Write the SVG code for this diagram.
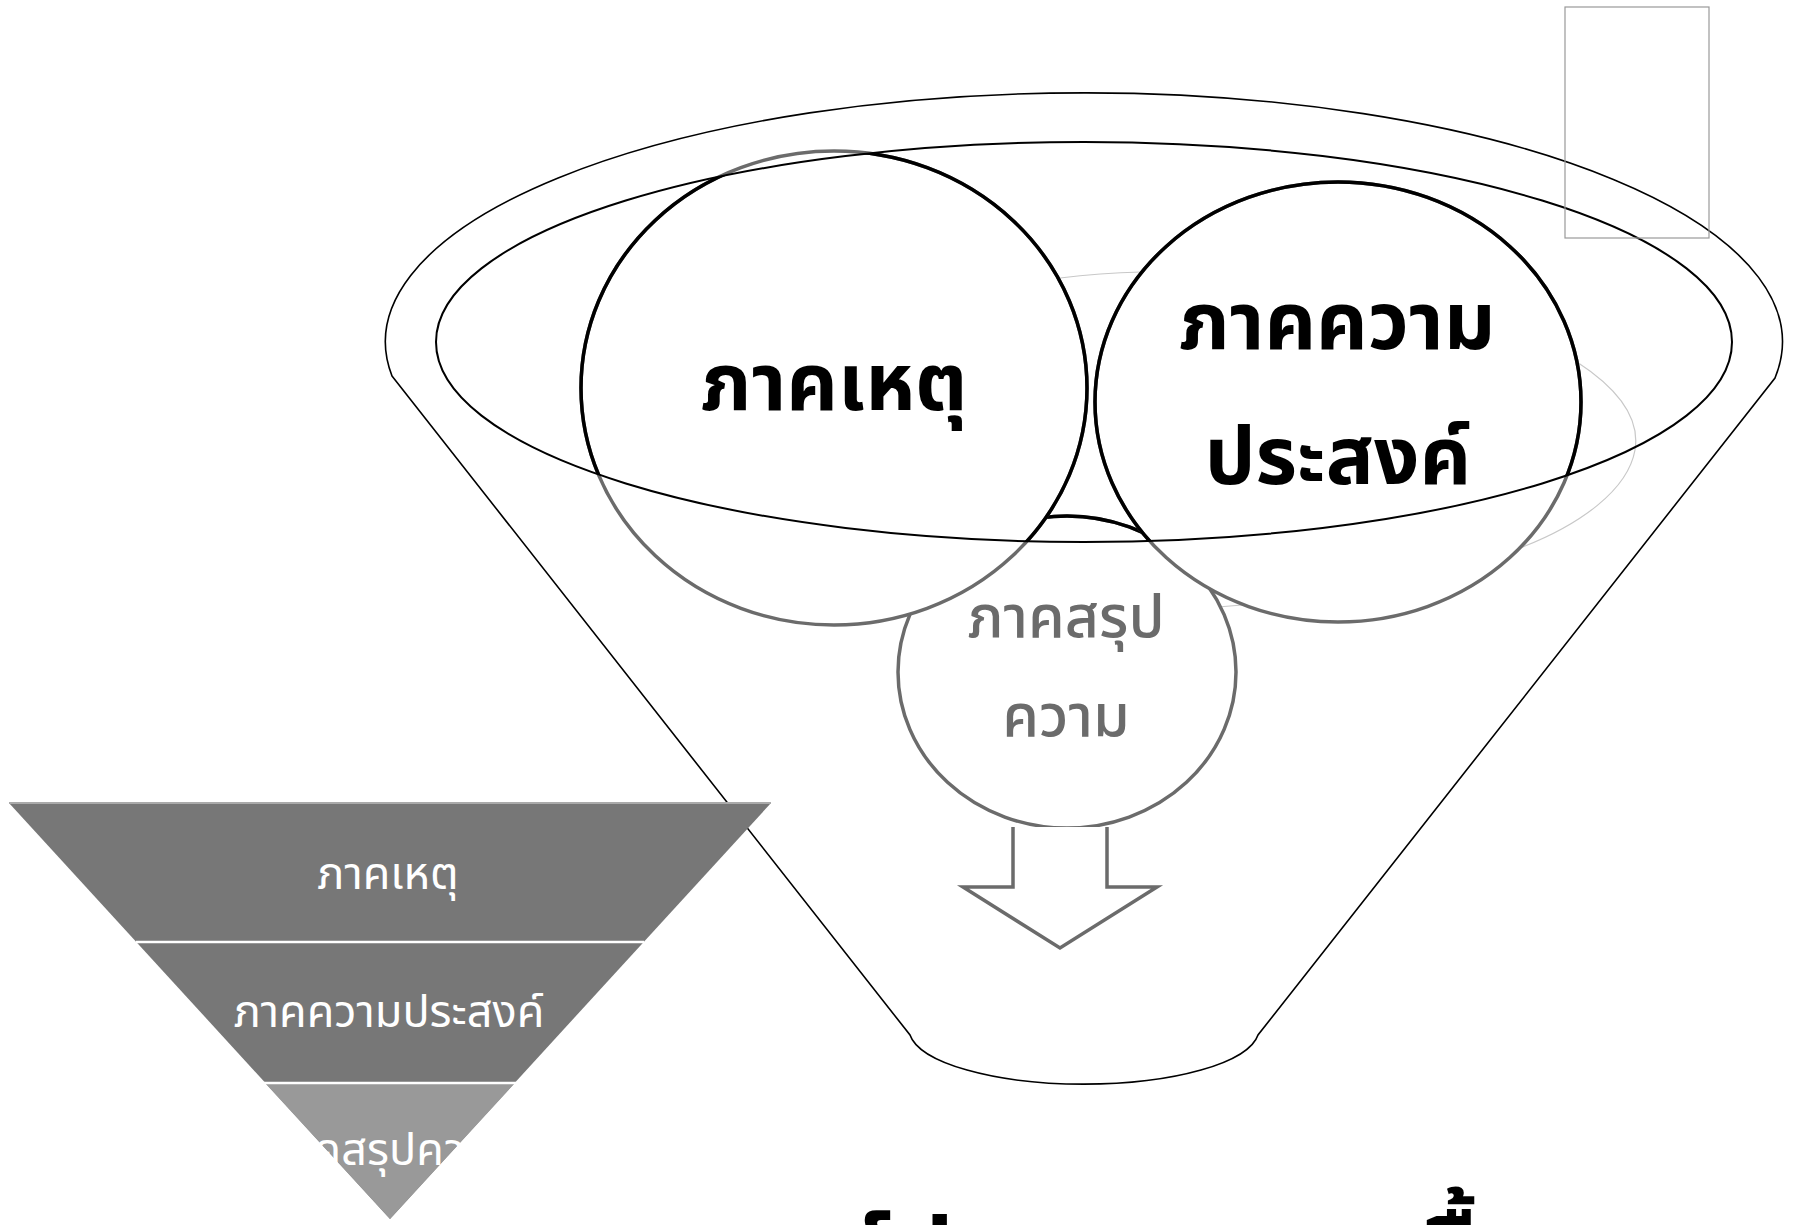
<svg xmlns="http://www.w3.org/2000/svg" width="1797" height="1225" viewBox="0 0 1797 1225">
<style>
.thai{font-family:'Noto Sans Thai','Noto Sans','DejaVu Sans',sans-serif;}
.big{font-size:80px;font-weight:bold;fill:#000;text-anchor:middle;}
.mid{font-size:59px;font-weight:500;fill:#6b6b6b;text-anchor:middle;}
.tri{font-size:45px;fill:#fff;text-anchor:middle;}
.cg{fill:#fff;stroke:#6b6b6b;stroke-width:3.5;}
.cb{fill:none;stroke:#000;stroke-width:3.5;}
.thin{fill:none;stroke:#000;stroke-width:1.6;}
</style>
<defs>
<clipPath id="inner"><ellipse cx="1084" cy="342" rx="648" ry="200"/></clipPath>
</defs>
<rect width="1797" height="1225" fill="#fff"/>
<g id="funnel">
<path class="thin" d="M 392 376 L 910 1035 A 175 55 0 0 0 1258 1035 L 1775 378 A 698.5 249 0 1 0 392 376 Z"/>
</g>
<g id="faint" fill="none" stroke="#c8c8c8" stroke-width="1.2">
<path d="M 1060 278 Q 1100 273 1141 272"/>
<path d="M 1577 362 C 1620 390 1640 420 1635 450 C 1628 490 1580 525 1520 548"/>
<path d="M 1218 607 L 1242 605"/>
</g>
<g id="node-conclusion">
<ellipse class="cg" cx="1067" cy="672" rx="169" ry="156"/>
<ellipse class="cb" cx="1067" cy="672" rx="169" ry="156" clip-path="url(#inner)"/>
</g>
<g id="node-cause">
<ellipse class="cg" cx="834" cy="388" rx="253" ry="237"/>
<ellipse class="cb" cx="834" cy="388" rx="253" ry="237" clip-path="url(#inner)"/>
</g>
<g id="node-purpose">
<ellipse class="cg" cx="1338" cy="402" rx="243" ry="220"/>
<ellipse class="cb" cx="1338" cy="402" rx="243" ry="220" clip-path="url(#inner)"/>
</g>
<g id="inner-rim">
<ellipse cx="1084" cy="342" rx="648" ry="200" fill="none" stroke="#000" stroke-width="2"/>
</g>
<g id="connectors">
<path d="M 1013 827 L 1013 887 L 963 887 L 1060 948 L 1157 887 L 1107 887 L 1107 827" fill="#fff" stroke="#6b6b6b" stroke-width="3.5"/>
</g>
<g id="labels" class="thai">
<text class="big" x="834" y="410">ภาคเหตุ</text>
<text class="big" x="1337" y="349">ภาคความ</text>
<text class="big" x="1338" y="484">ประสงค์</text>
<text class="mid" x="1066" y="637">ภาคสรุป</text>
<text class="mid" x="1066" y="736">ความ</text>
</g>
<g id="pyramid">
<polygon points="9,803 771,803 390,1219" fill="#777"/>
<polygon points="265,1083 515,1083 390,1219" fill="#999"/>
<line x1="9" y1="803" x2="771" y2="803" stroke="#aaa" stroke-width="2"/>
<line x1="136" y1="942" x2="644" y2="942" stroke="#fff" stroke-width="2.5"/>
<line x1="264" y1="1083" x2="516" y2="1083" stroke="#fff" stroke-width="2.5"/>
<g class="thai">
<text class="tri" x="388" y="889">ภาคเหตุ</text>
<text class="tri" x="389" y="1027">ภาคความประสงค์</text>
<text class="tri" x="390" y="1165">ภาคสรุปความ</text>
</g>
</g>
<g id="frame">
<rect x="1565" y="7" width="144" height="231" fill="none" stroke="#999" stroke-width="1.2"/>
</g>
<g id="title" class="thai">
<text x="719" y="1286" font-size="96" font-weight="bold" fill="#000">องค์ประกอบของเนื้อหา</text>
</g>
</svg>
